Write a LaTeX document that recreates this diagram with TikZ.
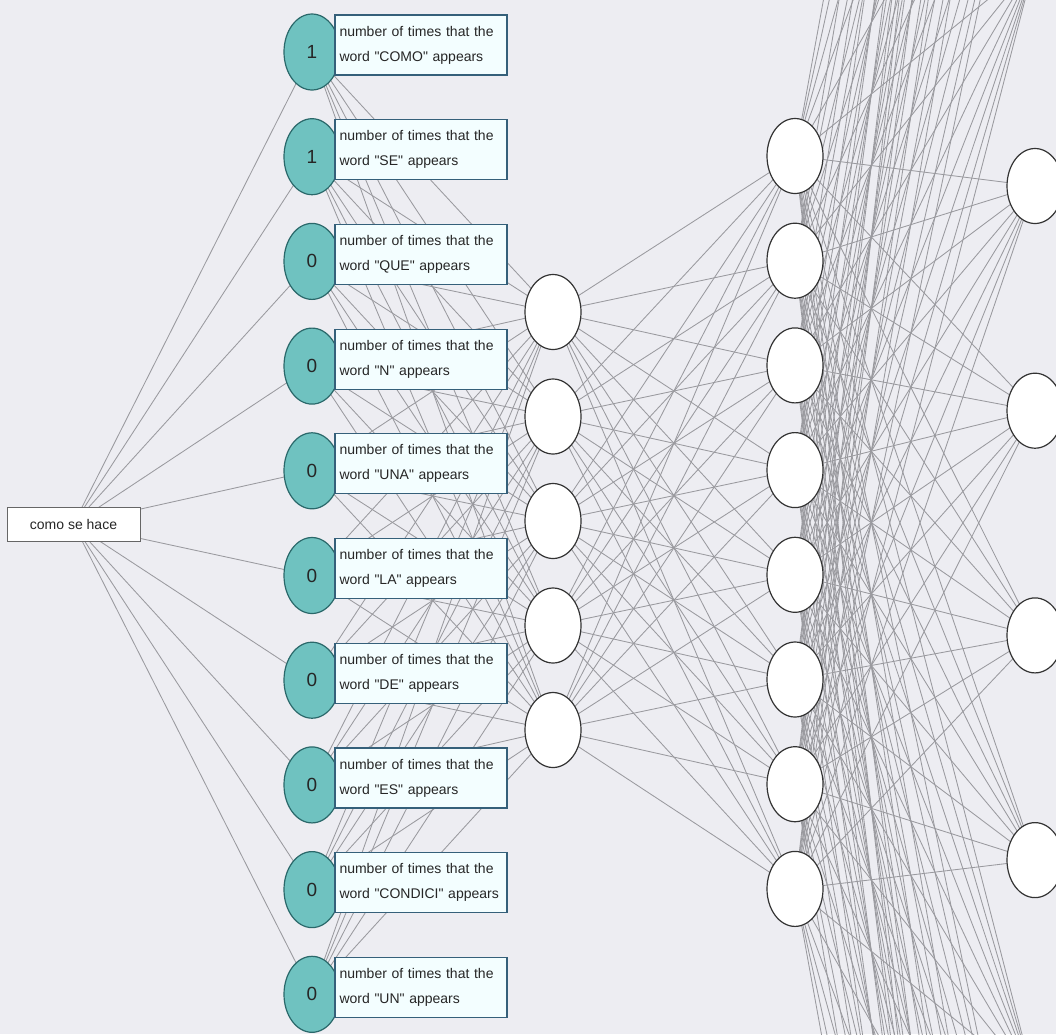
\documentclass[tikz,border=0pt]{standalone}
\usepackage{fontspec}
\setmainfont{Liberation Sans}
\usetikzlibrary{shapes.geometric}
\pgfdeclarelayer{backdrop}
\pgfdeclarelayer{wires}
\pgfsetlayers{backdrop,wires,main}
\definecolor{paper}{HTML}{EDEDF2}
\definecolor{wirecol}{HTML}{9A9A9F}
\definecolor{tealfill}{HTML}{6FC2C0}
\definecolor{tealedge}{HTML}{2A686A}
\definecolor{labelfill}{HTML}{F3FEFF}
\definecolor{labeledge}{HTML}{35607A}
\begin{document}
\begin{tikzpicture}[x=1pt,y=-1pt,
  wire/.style={draw=wirecol,line width=0.85pt},
  countnode/.style={ellipse,draw=tealedge,fill=tealfill,line width=1.2pt,
    minimum width=56pt,minimum height=76pt,inner sep=0pt,
    font=\fontsize{19}{19}\selectfont,text=black!85},
  unit/.style={ellipse,draw=black!80,fill=white,line width=1.2pt,
    minimum width=56pt,minimum height=75pt,inner sep=0pt},
  wordbox/.style={draw=labeledge,fill=labelfill,line width=1.2pt,
    minimum width=172pt,minimum height=60pt,inner xsep=4pt,inner ysep=0pt,
    text width=163pt,align=left,font=\fontsize{14}{25}\selectfont,text=black!85},
  querybox/.style={draw=black!60,fill=white,line width=0.9pt,
    minimum width=133pt,minimum height=34pt,inner sep=0pt,
    font=\fontsize{14}{16}\selectfont,text=black!85}]

% page frame
\useasboundingbox (0,0) rectangle (1056,1034);
\begin{pgfonlayer}{backdrop}
  \fill[paper] (0,0) rectangle (1056,1034);
\end{pgfonlayer}

% query text
\node[querybox] (q) at (73.5,524) {como se hace};

% word-count inputs with their descriptions
\foreach \n/\w [count=\k] in {1/COMO,1/SE,0/QUE,0/N,0/UNA,0/LA,0/DE,0/ES,0/CONDICI,0/UN} {
  \pgfmathsetmacro\cy{52+104.7*(\k-1)}
  \node[countnode] (i\k) at (312,\cy) {\n};
  \node[wordbox] (b\k) at (421,\cy-7)
    {number of times that the\\word \textquotedbl\w\textquotedbl\ appears};
}

% first hidden layer
\foreach \k in {1,...,5}
  \node[unit] (h\k) at (553,{312+104.5*(\k-1)}) {};

% second hidden layer
\foreach \k in {1,...,8}
  \node[unit] (g\k) at (795,{156+104.7*(\k-1)}) {};

% third layer, extending far above and below the page
\foreach \k in {1,...,16}
  \node[unit] (o\k) at (1035,{186+224.7*(\k-7)}) {};

% connections
\begin{pgfonlayer}{wires}
  \foreach \i in {1,...,10} {
    \draw[wire] (q.center) -- (i\i.center);
    \foreach \j in {1,...,5}
      \draw[wire] (i\i.center) -- (h\j.center);
  }
  \foreach \i in {1,...,5}
    \foreach \j in {1,...,8}
      \draw[wire] (h\i.center) -- (g\j.center);
  \foreach \i in {1,...,8}
    \foreach \j in {1,...,16}
      \draw[wire] (g\i.center) -- (o\j.center);
\end{pgfonlayer}
\end{tikzpicture}
\end{document}
